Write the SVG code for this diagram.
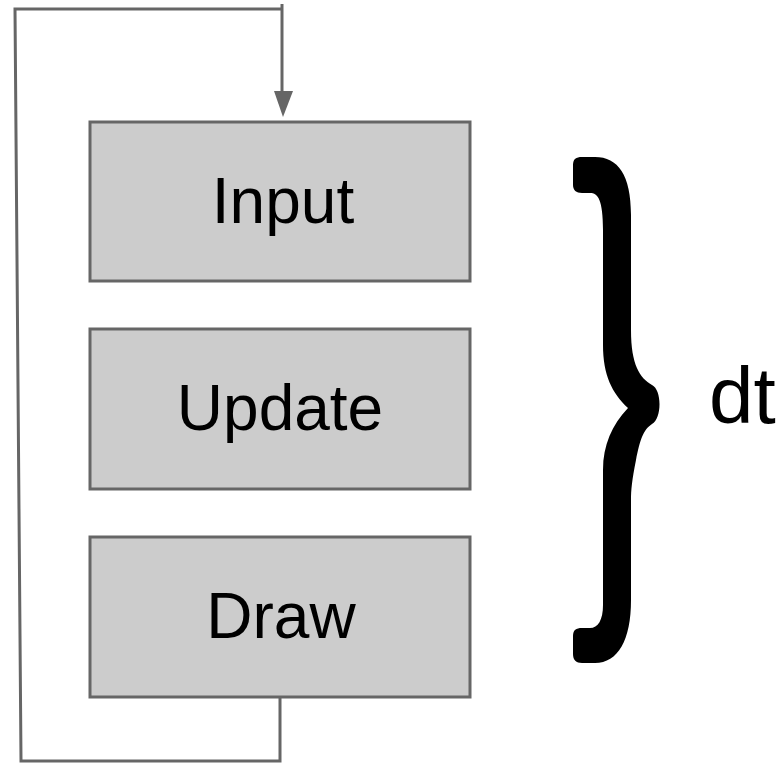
<svg xmlns="http://www.w3.org/2000/svg" width="782" height="763" viewBox="0 0 782 763">
<style>
.box{fill:#cccccc;stroke:#666666;stroke-width:3}
.lbl{font-family:"Liberation Sans",Arial,sans-serif;font-size:64px;fill:#000;text-anchor:middle}
.conn{fill:none;stroke:#666666;stroke-width:3}
</style>
<rect width="782" height="763" fill="#ffffff"/>
<g id="connectors">
<path class="conn" d="M 280 698 L 280 761 L 21 761 L 15 9 L 282 9"/>
<path class="conn" d="M 282 4 L 282 95"/>
<polygon points="274,91 293,91 283,117" fill="#666666"/>
</g>
<g id="input">
<rect class="box" x="90" y="122" width="380" height="159"/>
<text class="lbl" x="283" y="223">Input</text>
</g>
<g id="update">
<rect class="box" x="90" y="329" width="380" height="160"/>
<text class="lbl" x="280" y="430">Update</text>
</g>
<g id="draw">
<rect class="box" x="90" y="537" width="380" height="160"/>
<text class="lbl" x="281" y="638">Draw</text>
</g>
<g id="brace">
<path fill="#000000" d="M 573 165 C 573 159 576 157 582 157 L 595 157 C 618 157 631 175 631 215 L 631 330 C 631 365 640 378 652 385 C 662 390 662 418 652 424 C 643 430 640 440 636 460 C 632 480 631 490 631 500 L 631 600 C 631 640 618 663 595 663 L 582 663 C 576 663 573 660 573 654 L 573 636 C 573 630 576 628 582 628 L 590 628 C 598 628 603 620 603 605 L 603 470 C 603 445 612 425 628 408 C 612 393 603 375 603 345 L 603 230 C 603 200 598 193 590 193 L 582 193 C 576 193 573 190 573 185 Z"/>
</g>
<g id="dt">
<text x="709" y="423" font-family="Liberation Sans, Arial, sans-serif" font-size="80" fill="#000">dt</text>
</g>
</svg>
